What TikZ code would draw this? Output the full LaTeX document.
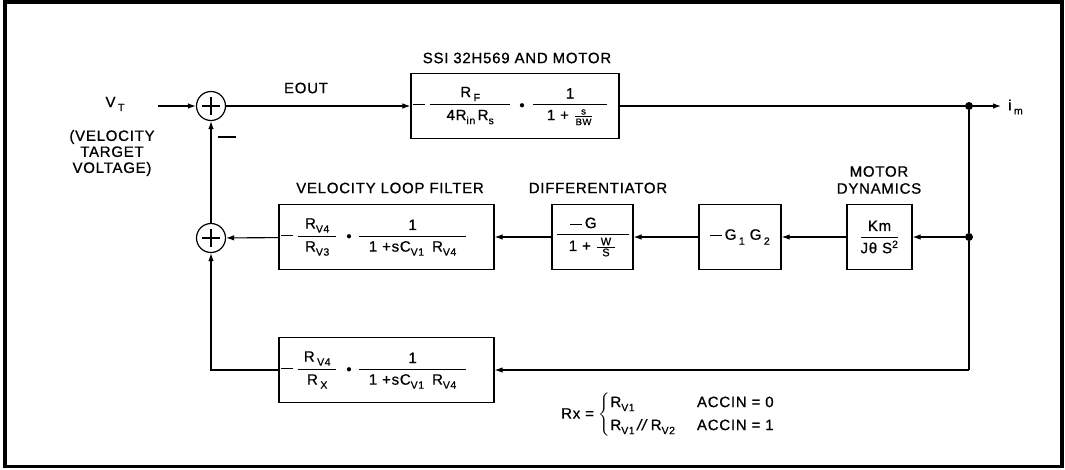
\documentclass[tikz,border=0pt]{standalone}
\usepackage{amsmath}
\usepackage{fontspec}
\setmainfont[LetterSpace=5,FakeBold=0.8]{Liberation Sans}
\usetikzlibrary{arrows.meta}
\newcommand{\sub}[1]{\raisebox{-4pt}{\fontsize{10.5}{12}\selectfont #1}}
\newcommand{\lsub}[1]{\raisebox{-5pt}{\fontsize{10.5}{12}\selectfont #1}}
\newcommand{\mn}{\rule[3.3pt]{12pt}{1.3pt}}
\newcommand{\fr}[3]{$\genfrac{}{}{1pt}{0}{\makebox[#1]{#2}}{\makebox[#1]{\rule{0pt}{12pt}#3}}$}
\newcommand{\sfr}[3]{$\genfrac{}{}{0.7pt}{1}{\makebox[#1]{\fontsize{9.5}{10}\selectfont #2}}{\makebox[#1]{\fontsize{9.5}{10}\selectfont #3}}$}
\newcommand{\wfr}[3]{$\genfrac{}{}{0.8pt}{1}{\makebox[#1]{\fontsize{11}{12}\selectfont #2}}{\makebox[#1]{\fontsize{11}{12}\selectfont #3}}$}
\newcommand{\bdot}{$\scriptstyle\bullet$}
\begin{document}
\begin{tikzpicture}[x=1pt,y=-1pt,
  every node/.style={font=\fontsize{15}{18}\selectfont, inner sep=0pt},
  blk/.style={draw, line width=1.2pt, minimum height=65pt, inner sep=0pt},
  sumnode/.style={draw, circle, line width=1.2pt, minimum size=29pt, inner sep=0pt},
  con/.style={line width=1.1pt},
  arr/.style={con, -{Latex[length=8pt,width=5.5pt]}},
  jdot/.style={circle, fill, minimum size=8pt, inner sep=0pt},
  ttl/.style={align=center, font=\fontsize{15}{17}\selectfont}]
\useasboundingbox (0,0) rectangle (1065,469);
\draw[line width=3.5pt] (5,2) rectangle (1062,466.5);

% summing junctions
\node[sumnode] (s1) at (211,106) {};
\node[sumnode] (s2) at (211,238) {};
\foreach \s in {s1,s2}{
  \draw[line width=1.8pt] ([xshift=-9pt]\s.center) -- ([xshift=9pt]\s.center);
  \draw[line width=1.8pt] ([yshift=-9pt]\s.center) -- ([yshift=9pt]\s.center);
}

% blocks
\node[blk, minimum width=208pt] (sm) at (515,106)
  {\makebox[206pt][l]{\hspace{1pt}\mn\hspace{4pt}\fr{80pt}{R\,\sub{F}}{4R\sub{in}\,R\sub{s}}\hspace{8pt}\bdot\hspace{7pt}\fr{74pt}{1}{1 + \sfr{17pt}{s}{BW}}}};
\node[blk, minimum width=215pt] (vlf) at (386.5,237)
  {\makebox[213pt][l]{\hspace{1pt}\mn\hspace{4pt}\fr{38pt}{R\sub{V4}}{R\sub{V3}}\hspace{9pt}\bdot\hspace{6pt}\fr{107pt}{1}{1 +sC\sub{V1}\hspace{8pt}R\sub{V4}}}};
\node[blk, minimum width=81pt] (dif) at (592.5,237)
  {\fr{72pt}{\mn\,G\hspace{18pt}}{1 + \wfr{18pt}{W}{S}}};
\node[blk, minimum width=82pt] (g12) at (740,237)
  {\mn\,G\,\lsub{1}\hspace{5pt}G\,\lsub{2}};
\node[blk, minimum width=65pt] (md) at (879.5,237)
  {\fr{37pt}{Km}{Jθ S\textsuperscript{2}}};
\node[blk, minimum width=215pt] (bot) at (386.5,370)
  {\makebox[213pt][l]{\hspace{1pt}\mn\hspace{4pt}\fr{38pt}{R\,\sub{V4}}{R\,\sub{X}}\hspace{9pt}\bdot\hspace{6pt}\fr{107pt}{1}{1 +sC\sub{V1}\hspace{8pt}R\sub{V4}}}};

% branch points and free ends
\node[jdot] (d1) at (969,106) {};
\node[jdot] (d2) at (969,237) {};
\coordinate (c3) at (969,370);
\coordinate (c4) at (211,370);
\coordinate (vin) at (158,106);
\coordinate (iout) at (1001,106);

% labels
\node (vt) at (115,104) {V\,\sub{T}};
\node[ttl, font=\fontsize{15}{16}\selectfont] (vtl) at (112,153) {(VELOCITY\\TARGET\\VOLTAGE)};
\node (eout) at (306,88) {EOUT};
\node (minus) at (227,137) {\rule{18pt}{2.8pt}};
\node[ttl] (tsm) at (517,58) {SSI 32H569 AND MOTOR};
\node[ttl] (tvlf) at (390,188) {VELOCITY LOOP FILTER};
\node[ttl] (tdif) at (598,188) {DIFFERENTIATOR};
\node[ttl] (tmd) at (879,180) {MOTOR\\DYNAMICS};
\node[anchor=west] (im) at (1008,107) {i\,\sub{m}};
\node[anchor=west] (rx) at (561,415)
  {Rx = {\boldmath$\left\{\begin{tabular}{@{}l@{\hspace{22pt}}l@{}}R\sub{V1} & ACCIN = 0\\[5pt] R\sub{V1}\,\textit{//}\,R\sub{V2} & ACCIN = 1\end{tabular}\right.$}};

% connectors
\draw[arr] (vin) -- (s1);
\draw[arr] (s1) -- (sm);
\draw[con] (sm) -- (d1);
\draw[arr] (d1) -- (iout);
\draw[con] (d1) -- (d2);
\draw[con] (d2) -- (c3);
\draw[arr] (c3) -- (bot);
\draw[arr] (d2) -- (md);
\draw[arr] (md) -- (g12);
\draw[arr] (g12) -- (dif);
\draw[arr] (dif) -- (vlf);
\draw[arr] (vlf) -- (s2);
\draw[arr] (bot.west) -- (c4) -- (s2);
\draw[arr] (s2) -- (s1);
\end{tikzpicture}
\end{document}
